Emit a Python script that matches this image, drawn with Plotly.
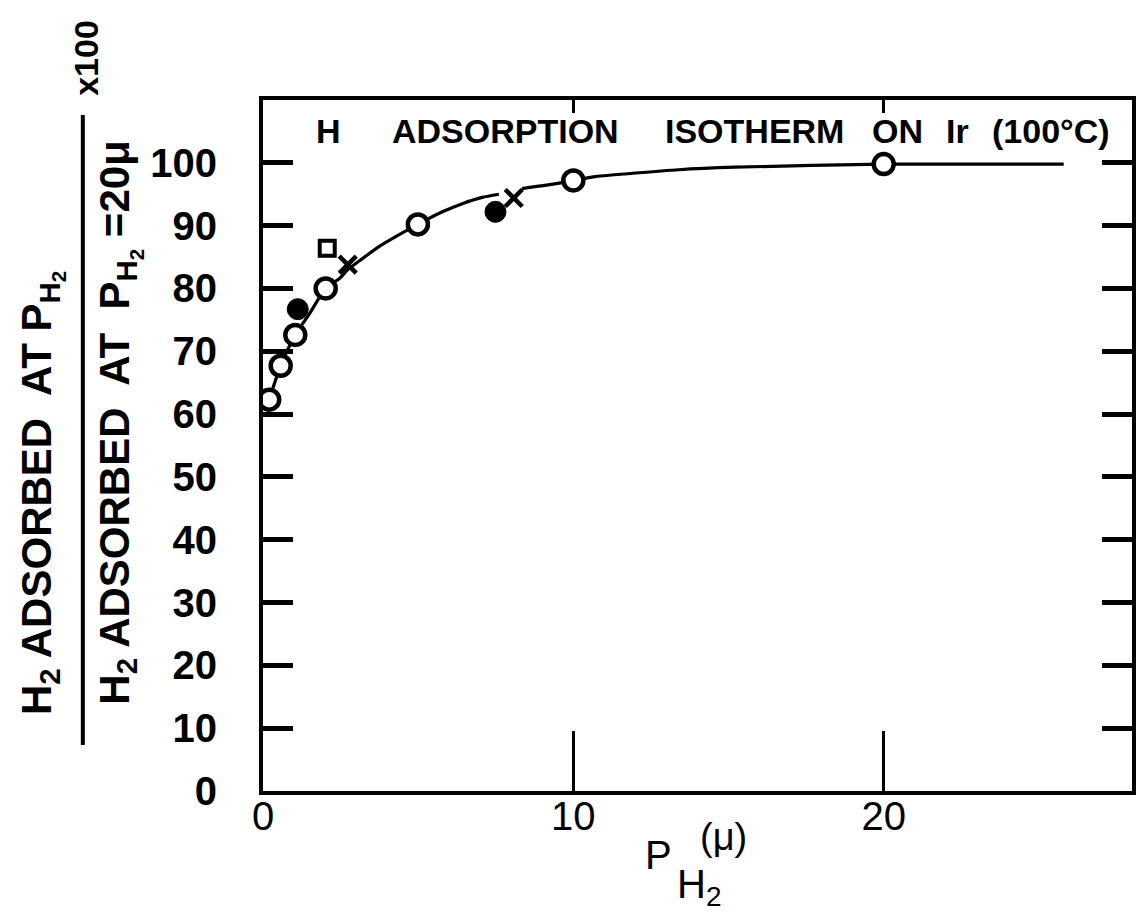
import plotly.graph_objects as go

# ---- data ----
curve_x = [0.2, 0.57, 1.04, 1.5, 2.02, 2.47, 2.73, 3.0, 3.75, 4.99, 5.78, 6.42, 7.06, 7.6,
           None, 8.34, 9.6, 10.0, 10.7, 13.4, 15.2, 20.0, 25.8]
curve_y = [62.3, 67.7, 72.6, 76.0, 80.0, 81.6, 83.0, 84.0, 86.7, 90.2, 92.2, 93.5, 94.5, 95.0,
           None, 95.9, 96.8, 97.2, 97.8, 98.9, 99.3, 99.8, 99.8]

open_x = [0.2, 0.57, 1.04, 2.02, 4.99, 10.0, 20.0]
open_y = [62.3, 67.7, 72.6, 80.0, 90.2, 97.2, 99.8]

filled_x = [1.12, 7.49]
filled_y = [76.7, 92.2]

cross_x = [2.73, 8.08]
cross_y = [83.8, 94.4]

square_x = [2.07]
square_y = [86.4]

y_ticks = [0, 10, 20, 30, 40, 50, 60, 70, 80, 90, 100]
y_ticktext = ["0", "10", "20", "30", "40", "50", "60", "70", "80", "90", "100"]
x_ticks = [0, 10, 20]
x_ticktext = ["0", "10", "20"]

FONT = "Liberation Sans"
NARROW = "Liberation Sans Narrow, Liberation Sans"

fig = go.Figure()
fig.add_trace(go.Scatter(x=curve_x, y=curve_y, mode="lines", connectgaps=False,
                         line=dict(color="black", width=3.2, shape="spline", smoothing=0.6),
                         hoverinfo="skip", showlegend=False))
fig.add_trace(go.Scatter(x=open_x, y=open_y, mode="markers", showlegend=False,
                         marker=dict(symbol="circle", size=20, color="white",
                                     line=dict(color="black", width=4.5))))
fig.add_trace(go.Scatter(x=filled_x, y=filled_y, mode="markers", showlegend=False,
                         marker=dict(symbol="circle", size=21, color="black",
                                     line=dict(color="black", width=1))))
fig.add_trace(go.Scatter(x=cross_x, y=cross_y, mode="markers", showlegend=False,
                         marker=dict(symbol="x-thin", size=17, color="black",
                                     line=dict(color="black", width=4.5))))
fig.add_trace(go.Scatter(x=square_x, y=square_y, mode="markers", showlegend=False,
                         marker=dict(symbol="square", size=15, color="white",
                                     line=dict(color="black", width=4))))
# invisible trace to activate the top axis
fig.add_trace(go.Scatter(x=[0], y=[0], xaxis="x2", mode="markers",
                         marker=dict(opacity=0), hoverinfo="skip", showlegend=False))

fig.update_layout(
    width=1139, height=916,
    margin=dict(l=263, r=3, t=100, b=125),
    plot_bgcolor="white", paper_bgcolor="white",
    font=dict(family=FONT, color="black"),
    xaxis=dict(range=[0, 28], tickvals=x_ticks, ticktext=x_ticktext,
               ticks="inside", ticklen=60, tickwidth=3, tickcolor="black",
               showline=True, linewidth=4, linecolor="black", mirror=True,
               showgrid=False, zeroline=False,
               tickfont=dict(family=FONT, size=40, color="black"),
               ticklabelstandoff=-13),
    xaxis2=dict(range=[0, 28], overlaying="x", side="top", tickvals=[10, 20],
                ticks="inside", ticklen=13, tickwidth=3, tickcolor="black",
                showticklabels=False, showline=False, showgrid=False, zeroline=False),
    yaxis=dict(range=[0, 110], tickvals=y_ticks, ticktext=y_ticktext,
               ticks="inside", ticklen=30, tickwidth=5, tickcolor="black",
               showline=True, linewidth=4, linecolor="black", mirror="ticks",
               showgrid=False, zeroline=False,
               tickfont=dict(family=FONT, size=40, color="black", weight="bold"),
               ticklabelstandoff=34),
)

# pixel -> paper helpers for decorations outside the plot area
W0, W1, H0, H1 = 263, 1136, 100, 791
def pxp(px):
    return (px - W0) / (W1 - W0)
def pyp(py):
    return (H1 - py) / (H1 - H0)

anns = []
# title words inside the plot
title_words = [("H", 329), ("ADSORPTION", 507), ("ISOTHERM", 757),
               ("ON", 900), ("Ir", 961), ("(100°C)", 1055)]
for w, cx in title_words:
    anns.append(dict(x=pxp(cx), y=pyp(131), text="<b>%s</b>" % w, yanchor="middle",
                     xanchor="center", font=dict(family=FONT, size=34, color="black")))

label_font = dict(family=NARROW, size=42, color="black")
anns += [
    # numerator of y title
    dict(x=pxp(40), y=pyp(493), text="<b>H<sub>2</sub> ADSORBED  AT P<sub>H<sub>2</sub></sub></b>",
         textangle=-90, yanchor="middle", xanchor="center", font=label_font),
    # denominator
    dict(x=pxp(118), y=pyp(423),
         text="<b>H<sub>2</sub> ADSORBED  AT  P<sub>H<sub>2</sub></sub> =20μ</b>",
         textangle=-90, yanchor="middle", xanchor="center", font=label_font),
    # x100
    dict(x=pxp(85), y=pyp(58), text="<b>x100</b>", textangle=-90, yanchor="middle",
         xanchor="center", font=dict(family=FONT, size=34, color="black")),
    # x-axis title  P_H2 (μ)
    dict(x=pxp(676), y=pyp(855), text="P", yanchor="middle", xanchor="right",
         font=dict(family=FONT, size=40, color="black")),
    dict(x=pxp(677), y=pyp(860), text="H<sub>2</sub>", yanchor="top", xanchor="left",
         font=dict(family=FONT, size=40, color="black")),
    dict(x=pxp(726), y=pyp(860), text="(μ)", yanchor="bottom", xanchor="center",
         font=dict(family=FONT, size=38, color="black")),
]
for a in anns:
    a.update(xref="paper", yref="paper", showarrow=False)
fig.update_layout(annotations=anns)

# fraction bar of the y title
fig.add_shape(type="line", xref="paper", yref="paper",
              x0=pxp(82), x1=pxp(82), y0=pyp(115), y1=pyp(745),
              line=dict(color="black", width=4))

fig.write_html("out.html")
